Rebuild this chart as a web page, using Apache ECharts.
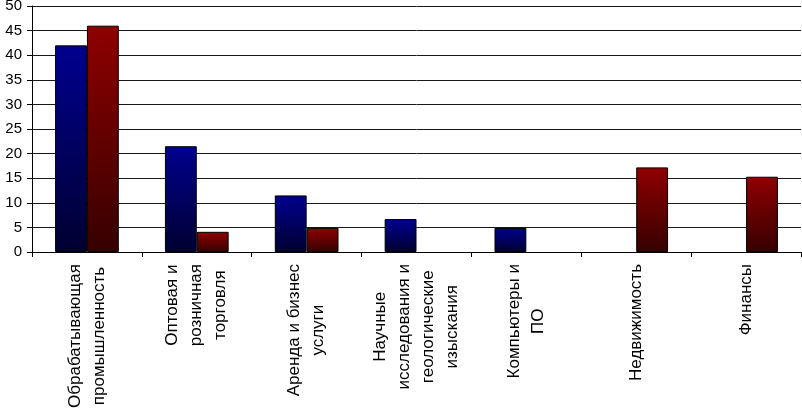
<!DOCTYPE html>
<html>
<head>
<meta charset="utf-8">
<script src="https://cdn.jsdelivr.net/npm/echarts@6/dist/echarts.min.js"></script>
<style>
html,body{margin:0;padding:0;background:#fff;}
#chart{width:802px;height:409px;}
</style>
</head>
<body>
<div id="chart"></div>
<script>
const categories = [
  "Обрабатывающая\nпромышленность",
  "Оптовая и\nрозничная\nторговля",
  "Аренда и бизнес\nуслуги",
  "Научные\nисследования и\nгеологические\nизыскания",
  "Компьютеры и\nПО",
  "Недвижимость",
  "Финансы"
];
const blueValues = [42, 21.5, 11.5, 6.7, 4.9, null, null];
const redValues = [46, 4.1, 4.9, null, null, 17.2, 15.3];
const yMin = 0, yMax = 50, yInterval = 5;

const FONT = '"Liberation Sans", Arial, sans-serif';
const chart = echarts.init(document.getElementById('chart'), null, {renderer: 'canvas'});

function grad(top, bottom) {
  return new echarts.graphic.LinearGradient(0, 0, 0, 1, [
    {offset: 0, color: top},
    {offset: 1, color: bottom}
  ]);
}

chart.setOption({
  animation: false,
  backgroundColor: '#fff',
  grid: {left: 32, right: 1, top: 6, bottom: 157, containLabel: false, outerBoundsMode: 'none'},
  xAxis: {
    type: 'category',
    data: categories,
    boundaryGap: true,
    axisLine: {show: true, lineStyle: {color: '#000', width: 1}},
    axisTick: {show: true, length: 5, alignWithLabel: false, lineStyle: {color: '#000'}},
    axisLabel: {
      rotate: 90,
      interval: 0,
      margin: 12,
      fontFamily: FONT,
      fontSize: 17,
      color: '#000',
      formatter: function (v) {
        return v.split('\n').map(function (s) { return '{c|' + s + '}'; }).join('\n');
      },
      rich: {
        c: {align: 'center', fontFamily: FONT, fontSize: 17, lineHeight: 24, color: '#000'}
      }
    }
  },
  yAxis: {
    type: 'value',
    min: yMin,
    max: yMax,
    interval: yInterval,
    axisLine: {show: true, lineStyle: {color: '#000', width: 1}},
    axisTick: {show: true, length: 5, lineStyle: {color: '#000'}},
    axisLabel: {fontFamily: FONT, fontSize: 15, color: '#000', margin: 10},
    splitLine: {show: true, lineStyle: {color: '#1a1a1a', width: 1}}
  },
  series: [
    {
      type: 'bar',
      data: blueValues,
      barGap: '0%',
      barCategoryGap: '42%',
      itemStyle: {color: grad('#00008f', '#000030'), borderColor: '#000', borderWidth: 1}
    },
    {
      type: 'bar',
      data: redValues,
      barGap: '0%',
      barCategoryGap: '42%',
      itemStyle: {color: grad('#8f0000', '#360000'), borderColor: '#000', borderWidth: 1}
    }
  ]
});
</script>
</body>
</html>
